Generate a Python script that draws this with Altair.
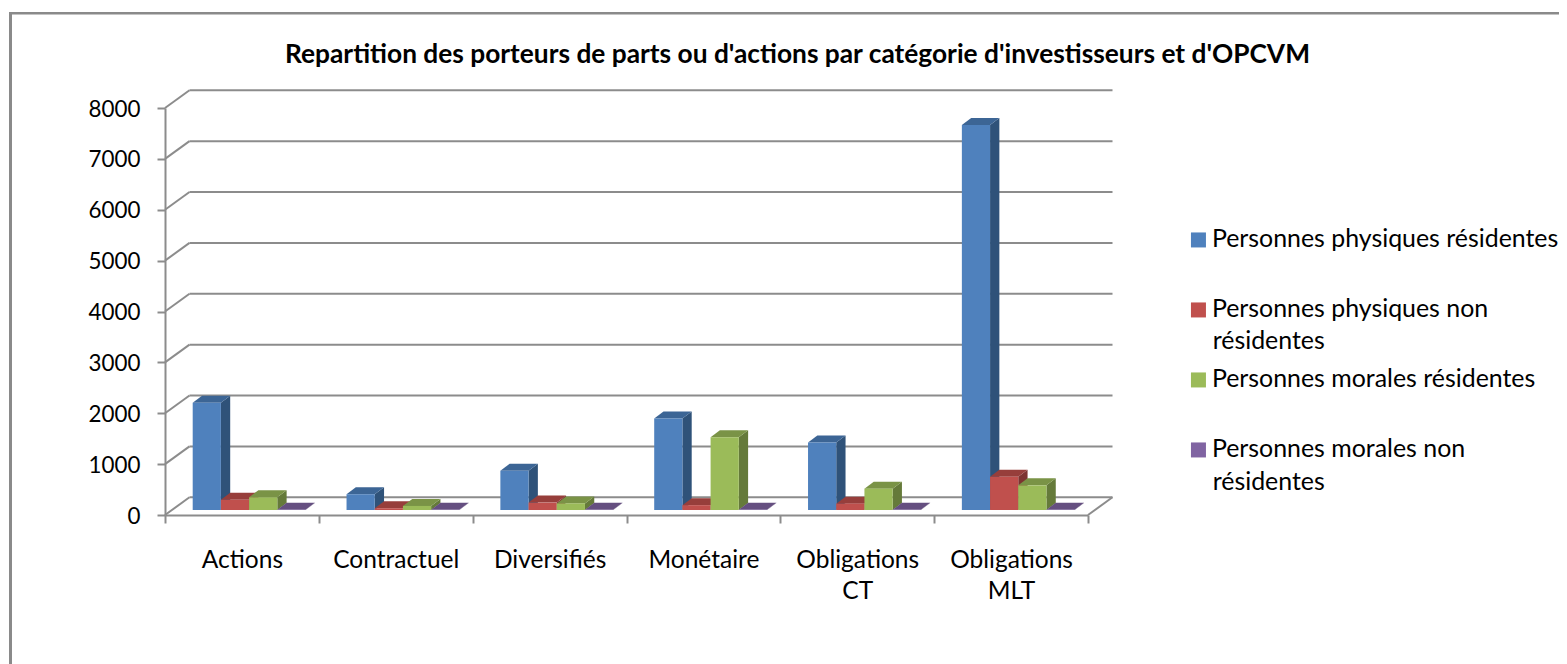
import altair as alt
import pandas as pd

categories = ["Actions", "Contractuel", "Diversifiés", "Monétaire", "Obligations CT", "Obligations MLT"]
series_names = ["Personnes physiques résidentes", "Personnes physiques non résidentes",
                "Personnes morales résidentes", "Personnes morales non résidentes"]
physiques_res = [2110, 310, 770, 1800, 1325, 7570]
physiques_non = [200, 35, 145, 95, 125, 655]
morales_res = [250, 80, 130, 1430, 420, 485]
morales_non = [5, 3, 4, 5, 4, 5]
y_ticks = [0, 1000, 2000, 3000, 4000, 5000, 6000, 7000, 8000]

front = ["#4F81BD", "#C0504D", "#9BBB59", "#8064A2"]
top = ["#3C6595", "#973E3B", "#7A9346", "#654F80"]
side = ["#2F5279", "#7D3331", "#657A3A", "#523F69"]
GRID = "#8C8C8C"
FONT = "Lato"

W, H = 923, 407
PX_X = 6 / W          # category units per pixel
PX_Y = 8000 / H       # value units per pixel
BAR = 28.2 * PX_X     # bar width
GAP = 27.7 * PX_X     # gap from category edge to first bar
DX, DY = 9.3 * PX_X, 7 * PX_Y       # bar depth
BASE = 5 * PX_Y       # bar foot above the front floor edge
WX, WY = 24.5 * PX_X, 17.7 * PX_Y   # wall depth

X = alt.Scale(domain=[0, 6], nice=False, zero=False)
Y = alt.Scale(domain=[0, 8000], nice=False, zero=False)
xq = lambda f="x": alt.X(f"{f}:Q", scale=X, axis=None)
yq = lambda f="y": alt.Y(f"{f}:Q", scale=Y, axis=None)

rows = []
for s, values in enumerate([physiques_res, physiques_non, morales_res, morales_non]):
    for i, v in enumerate(values):
        left = i + GAP + s * BAR
        rows.append(dict(series=series_names[s], s=s, cat=i, left=left, right=left + BAR,
                         base=BASE, val=BASE + v))
bars = pd.DataFrame(rows)

layers = []

# frame of the picture (top and left edges only)
frame = alt.Chart(pd.DataFrame({"k": [0]}))
layers.append(frame.mark_rule(color="#8A8A8A", strokeWidth=3).encode(
    x=alt.value(-154.5), y=alt.value(-94.7), y2=alt.value(560)))
layers.append(frame.mark_rule(color="#8A8A8A", strokeWidth=2.5).encode(
    x=alt.value(-156), x2=alt.value(1420), y=alt.value(-94.7)))

# y axis + slanted side wall lines
grid = pd.DataFrame({"v": y_ticks})
grid["x0"] = 0.0
grid["x1"] = WX
grid["x2"] = 6 + WX
grid["y1"] = grid["v"] + WY
layers.append(alt.Chart(grid).mark_rule(color=GRID, strokeWidth=2).encode(
    x=xq("x0"), x2="x1:Q",
    y=alt.Y("v:Q", scale=Y, title=None, axis=alt.Axis(
        values=y_ticks, grid=False, tickSize=8, tickWidth=2, tickColor=GRID,
        domainColor=GRID, domainWidth=2, labelFont=FONT, labelFontSize=22.4,
        labelColor="#000000", labelPadding=17, labelOffset=1, format="d")),
    y2="y1:Q"))
layers.append(alt.Chart(grid).mark_rule(color=GRID, strokeWidth=2).encode(
    x=xq("x1"), x2="x2:Q", y=yq("y1")))
# right edge of the floor
edge = pd.DataFrame({"x0": [6.0], "x1": [6 + WX], "y0": [0.0], "y1": [WY]})
layers.append(alt.Chart(edge).mark_rule(color=GRID, strokeWidth=2).encode(
    x=xq("x0"), x2="x1:Q", y=yq("y0"), y2="y1:Q"))

# category axis (band scale on its own)
cat_df = pd.DataFrame({"category": categories})
layers.append(alt.Chart(cat_df).mark_tick(opacity=0).encode(
    x=alt.X("category:N", sort=categories, title=None,
            scale=alt.Scale(domain=categories, paddingInner=0, paddingOuter=0),
            axis=alt.Axis(tickBand="extent", labelAngle=0, tickSize=8, tickWidth=2, tickColor=GRID,
                          domainColor=GRID, domainWidth=2, labelFont=FONT, labelFontSize=24.5,
                          labelColor="#000000", labelPadding=44, labelBaseline="alphabetic",
                          labelExpr="split(datum.label, ' ')", labelLimit=300))))

# 3-D bars, painted left to right
for s in range(4):
    d = bars[bars.s == s]
    sd = pd.concat([
        d.assign(px=d.right, lo=d.base, hi=d.val),
        d.assign(px=d.right + DX, lo=d.base + DY, hi=d.val + DY)], ignore_index=True)
    layers.append(alt.Chart(sd).mark_area(orient="vertical").encode(
        x=xq("px"), y=yq("lo"), y2="hi:Q", detail="cat:N", fill=alt.value(side[s])))
    tp = pd.concat([
        d.assign(py=d.val, a=d.left, b=d.right),
        d.assign(py=d.val + DY, a=d.left + DX, b=d.right + DX)], ignore_index=True)
    layers.append(alt.Chart(tp).mark_area(orient="horizontal").encode(
        y=yq("py"), x=xq("a"), x2="b:Q", detail="cat:N", fill=alt.value(top[s])))
    layers.append(alt.Chart(d).mark_rect().encode(
        x=xq("left"), x2="right:Q", y=yq("base"), y2="val:Q",
        color=alt.Color("series:N", scale=alt.Scale(domain=series_names, range=front), title=None,
                        legend=alt.Legend(
                            orient="none", legendX=1021, legendY=119.5, symbolType="square",
                            symbolSize=225, symbolStrokeWidth=0, labelFont=FONT, labelFontSize=24.9,
                            labelColor="#000000", labelLimit=500, labelOffset=1, rowPadding=44,
                            padding=0, labelBaseline="middle",
                            labelExpr="replace(datum.label, ' non résidentes', ' non')"))))

# second line of the two wrapped legend labels
wrapped = [n.split(" non ")[1] for n in series_names if " non " in n]
for word, line_y in zip(wrapped, [233.7, 374.7]):
    layers.append(alt.Chart(pd.DataFrame({"line": [word]})).mark_text(
        font=FONT, fontSize=24.9, color="#000000", align="left", baseline="middle").encode(
        x=alt.value(1047.7), y=alt.value(line_y), text="line:N"))

chart = alt.layer(*layers).resolve_scale(x="independent").resolve_axis(x="independent", y="independent").properties(
    width=W, height=H,
    autosize=alt.AutoSizeParams(type="none"),
    padding={"left": 157, "top": 100, "right": 471, "bottom": 149},
    title=alt.TitleParams(
        "Repartition des porteurs de parts ou d'actions par catégorie d'investisseurs et d'OPCVM",
        font=FONT, fontSize=26.3, fontWeight="bold", color="#000000",
        anchor="middle", frame="group", dx=171, offset=0, dy=56),
).configure(
    background="white",
    view=alt.ViewConfig(stroke=None),
    style={"guide-label": {"lineHeight": 31.5}},
)

chart.save("out.html", embed_options={"renderer": "svg", "actions": False})
